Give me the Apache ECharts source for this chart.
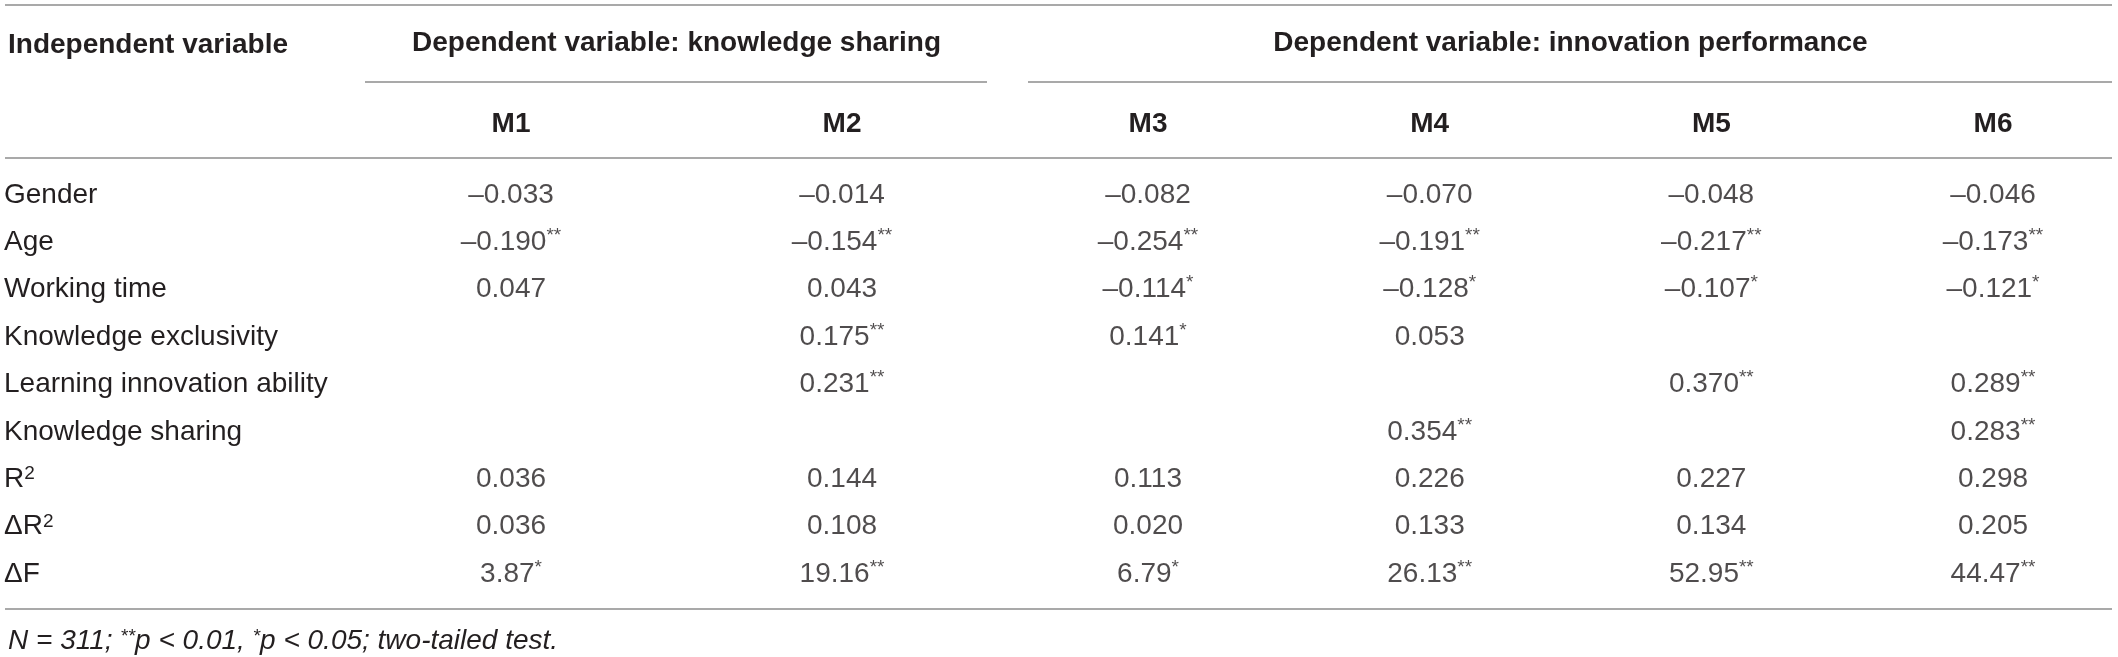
<!DOCTYPE html>
<html>
<head>
<meta charset="utf-8">
<script src="https://cdn.jsdelivr.net/npm/echarts@6/dist/echarts.min.js"></script>
<style>
  html, body { margin: 0; padding: 0; background: #fff; }
  #main { width: 2118px; height: 657px; }
</style>
</head>
<body>
<div id="main"></div>
<script>
// table content
var rowNames = ['Gender', 'Age', 'Working time', 'Knowledge exclusivity',
    'Learning innovation ability', 'Knowledge sharing', 'R²', 'ΔR²', 'ΔF'];
var groupKS = ['M1', 'M2'];
var groupIP = ['M3', 'M4', 'M5', 'M6'];
var m1 = ['–0.033', '–0.190**', '0.047', '', '', '', '0.036', '0.036', '3.87*'];
var m2 = ['–0.014', '–0.154**', '0.043', '0.175**', '0.231**', '', '0.144', '0.108', '19.16**'];
var m3 = ['–0.082', '–0.254**', '–0.114*', '0.141*', '', '', '0.113', '0.020', '6.79*'];
var m4 = ['–0.070', '–0.191**', '–0.128*', '0.053', '', '0.354**', '0.226', '0.133', '26.13**'];
var m5 = ['–0.048', '–0.217**', '–0.107*', '', '0.370**', '', '0.227', '0.134', '52.95**'];
var m6 = ['–0.046', '–0.173**', '–0.121*', '', '0.289**', '0.283**', '0.298', '0.205', '44.47**'];

var FONT = '"Liberation Sans", Arial, Helvetica, sans-serif';
var INK = '#231f20';
var RULE = '#8c8c8c';

var chart = echarts.init(document.getElementById('main'));

// split trailing stars off so they can be drawn as superscript
function cellText(s) {
    var m = s.match(/^(.*?)(\*+)$/);
    if (m) return '{v|' + m[1] + '}{s|' + m[2] + '}';
    return '{v|' + s + '}';
}

function makeSeries(col, xi, axisIdx) {
    var data = [];
    for (var i = 0; i < col.length; i++) {
        if (col[i] !== '') data.push({ name: col[i], value: [xi, i] });
    }
    return {
        type: 'scatter',
        xAxisIndex: axisIdx,
        yAxisIndex: axisIdx,
        symbolSize: 1,
        itemStyle: { color: 'rgba(0,0,0,0)' },
        silent: true,
        data: data,
        label: {
            show: true,
            position: 'inside',
            formatter: function (p) { return cellText(p.name); },
            rich: {
                v: { fontFamily: FONT, fontSize: 28, color: INK, lineHeight: 32 },
                s: { fontFamily: FONT, fontSize: 19, color: INK, lineHeight: 32, verticalAlign: 'top', padding: [0, 0, 10, 0] }
            }
        }
    };
}

function topAxis(idx, cats, title) {
    return {
        gridIndex: idx,
        type: 'category',
        data: cats,
        position: 'top',
        boundaryGap: false,
        axisLine: { show: false },
        axisTick: { show: false },
        splitLine: { show: false },
        axisLabel: {
            margin: 71,
            verticalAlign: 'middle',
            fontFamily: FONT, fontSize: 28, fontWeight: 'bold', color: INK
        },
        name: title,
        nameLocation: 'middle',
        nameGap: 152,
        nameTextStyle: {
            fontFamily: FONT, fontSize: 28, fontWeight: 'bold', color: INK,
            verticalAlign: 'middle'
        }
    };
}

function hline(x1, x2, y) {
    return {
        type: 'line',
        shape: { x1: x1, y1: y, x2: x2, y2: y },
        style: { stroke: RULE, lineWidth: 1.5 },
        silent: true
    };
}

var option = {
    backgroundColor: '#fff',
    animation: false,
    title: [{
        text: 'Independent variable',
        left: 3,
        top: 26,
        textStyle: { fontFamily: FONT, fontSize: 28, fontWeight: 'bold', color: INK }
    }, {
        text: 'N = 311; {s|**}p < 0.01, {s|*}p < 0.05; two-tailed test.',
        left: 3,
        top: 622,
        textStyle: {
            fontFamily: FONT, fontSize: 28, fontStyle: 'italic', fontWeight: 'normal', color: INK,
            rich: {
                s: { fontFamily: FONT, fontSize: 19, fontStyle: 'italic', fontWeight: 'normal', color: INK, verticalAlign: 'top', padding: [0, 0, 10, 0] }
            }
        }
    }],
    grid: [
        { left: 511, right: 2118 - 842, top: 195, bottom: 83 },
        { left: 1148, right: 2118 - 1993, top: 195, bottom: 83 }
    ],
    xAxis: [
        topAxis(0, groupKS, 'Dependent variable: knowledge sharing'),
        topAxis(1, groupIP, 'Dependent variable: innovation performance')
    ],
    yAxis: [{
        gridIndex: 0,
        type: 'category',
        data: rowNames,
        inverse: true,
        boundaryGap: false,
        axisLine: { show: false },
        axisTick: { show: false },
        splitLine: { show: false },
        axisLabel: {
            align: 'left',
            margin: 507,
            fontFamily: FONT, fontSize: 28, color: INK,
            formatter: function (v) { return v.replace('²', '{s|2}'); },
            rich: {
                s: { fontFamily: FONT, fontSize: 19, color: INK, verticalAlign: 'top', padding: [0, 0, 10, 0] }
            }
        }
    }, {
        gridIndex: 1,
        type: 'category',
        data: rowNames,
        inverse: true,
        boundaryGap: false,
        show: false
    }],
    series: [
        makeSeries(m1, 0, 0),
        makeSeries(m2, 1, 0),
        makeSeries(m3, 0, 1),
        makeSeries(m4, 1, 1),
        makeSeries(m5, 2, 1),
        makeSeries(m6, 3, 1)
    ],
    graphic: [
        hline(5, 2112, 5),
        hline(365, 987, 82),
        hline(1028, 2112, 82),
        hline(5, 2112, 158),
        hline(5, 2112, 609)
    ]
};

chart.setOption(option);
</script>
</body>
</html>
